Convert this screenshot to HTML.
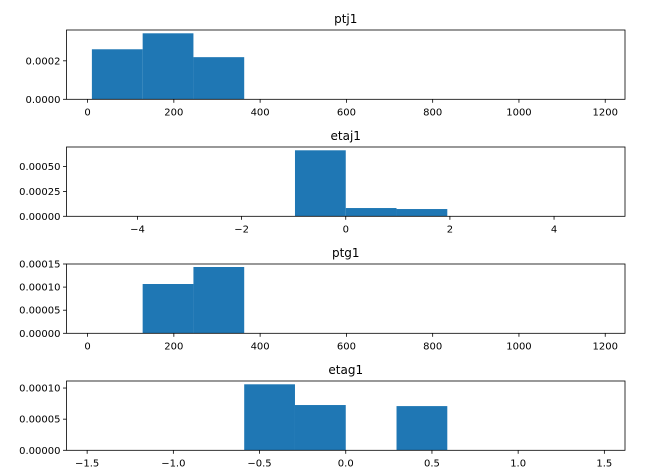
<!DOCTYPE html>
<html><head><meta charset="utf-8"><style>
body{margin:0;background:#fff}
svg{display:block;font-family:"DejaVu Sans","Liberation Sans",sans-serif}
</style></head><body>
<svg id="fig" width="659" height="476" viewBox="0 0 659 476"></svg>
<script>
// ptj1
const ptj1Edges = [10,127.7,245.4,363.1,480.8,598.5,716.2,833.9,951.6,1069.3,1187];
const ptj1Values = [0.000260,0.000343,0.000219,0,0,0,0,0,0,0];
const ptj1XTicks = [0,200,400,600,800,1000,1200];
const ptj1YTicks = ["0.0000","0.0002"];
// etaj1
const etaj1Edges = [-4.875,-3.9,-2.925,-1.95,-0.975,0,0.975,1.95,2.925,3.9,4.875];
const etaj1Values = [0,0,0,0,0.000663,0.000083,0.000073,0,0,0];
const etaj1XTicks = [-4,-2,0,2,4];
const etaj1YTicks = ["0.00000","0.00025","0.00050"];
// ptg1
const ptg1Edges = [10,127.7,245.4,363.1,480.8,598.5,716.2,833.9,951.6,1069.3,1187];
const ptg1Values = [0,0.0001067,0.0001435,0,0,0,0,0,0,0];
const ptg1XTicks = [0,200,400,600,800,1000,1200];
const ptg1YTicks = ["0.00000","0.00005","0.00010","0.00015"];
// etag1
const etag1Edges = [-1.4725,-1.178,-0.8835,-0.589,-0.2945,0,0.2945,0.589,0.8835,1.178,1.4725];
const etag1Values = [0,0,0,0.000106,0.0000727,0,0.000071,0,0,0];
const etag1XTicks = ["-1.5","-1.0","-0.5","0.0","0.5","1.0","1.5"];
const etag1YTicks = ["0.00000","0.00005","0.00010"];

const NS="http://www.w3.org/2000/svg";
const svg=document.getElementById('fig');
function mk(tag,attrs,parent){const e=document.createElementNS(NS,tag);for(const k in attrs)e.setAttribute(k,attrs[k]);(parent||svg).appendChild(e);return e;}

function panel(key,title,top,edges,values,xticks,yticks,yMaxLim){
  const L=66.5,R=625,T=top,B=top+69.3;
  const g=mk('g',{});
  
  
  const x0=edges[0],x1=edges[edges.length-1],m=(x1-x0)*0.05;
  const xmin=x0-m,xmax=x1+m;
  const vmax=Math.max(...values);
  const ymax=yMaxLim!==null?yMaxLim:vmax*1.05;
  const xs=v=>L+(v-xmin)/(xmax-xmin)*(R-L);
  const ys=v=>B-v/ymax*(B-T);
  for(let i=0;i<values.length;i++){
    if(values[i]<=0)continue;
    const r=mk('rect',{x:xs(edges[i]),y:ys(values[i]),width:xs(edges[i+1])-xs(edges[i]),height:B-ys(values[i]),fill:'#1f77b4'},g);
    
    
  }
  const f=mk('rect',{x:L,y:T,width:R-L,height:B-T,fill:'none',stroke:'#000','stroke-width':0.8},g);
  
  
  xticks.forEach(t=>{
    const v=parseFloat(t),x=xs(v);
    mk('line',{x1:x,x2:x,y1:B,y2:B+3.5,stroke:'#000','stroke-width':0.8},g);
    const tx=mk('text',{x:x,y:B+16,'font-size':10,'text-anchor':'middle',fill:'#000'},g);
    tx.textContent=String(t).replace('-','\u2212');
    
    
  });
  yticks.forEach(t=>{
    const v=parseFloat(t),y=ys(v);
    mk('line',{x1:L-3.5,x2:L,y1:y,y2:y,stroke:'#000','stroke-width':0.8},g);
    const tx=mk('text',{x:L-6,y:y+3.5,'font-size':10,'text-anchor':'end',fill:'#000'},g);
    tx.textContent=t;
    
    
  });
  const tt=mk('text',{x:(L+R)/2,y:T-7,'font-size':12,'text-anchor':'middle',fill:'#000'},g);
  tt.textContent=title;
  
  
}
panel('ptj1','ptj1',30,ptj1Edges,ptj1Values,ptj1XTicks,ptj1YTicks,null);
panel('etaj1','etaj1',147,etaj1Edges,etaj1Values,etaj1XTicks,etaj1YTicks,null);
panel('ptg1','ptg1',264,ptg1Edges,ptg1Values,ptg1XTicks,ptg1YTicks,0.00015);
panel('etag1','etag1',381,etag1Edges,etag1Values,etag1XTicks,etag1YTicks,null);
</script>
</body></html>
